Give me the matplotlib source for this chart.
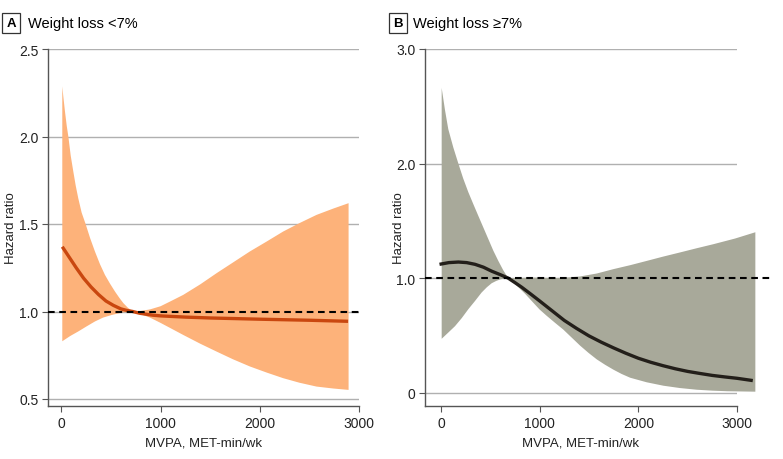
import numpy as np
import matplotlib.pyplot as plt

plt.rcParams['font.family'] = ['Liberation Sans', 'DejaVu Sans']

# Panel A: weight loss <7%
a_up_x = [10, 20, 37, 55, 71, 95, 121, 145, 171, 205, 245, 290, 339, 390, 440, 490, 541, 585, 625, 670, 720,
          800, 894, 1000, 1100, 1229, 1400, 1565, 1730, 1900, 2070, 2236, 2400, 2572, 2740, 2895]
a_up_y = [2.286, 2.23, 2.143, 2.06, 2.0, 1.89, 1.80, 1.72, 1.647, 1.565, 1.5, 1.42, 1.343, 1.27, 1.209, 1.16,
          1.114, 1.078, 1.048, 1.022, 1.0,
          1.003, 1.012, 1.03, 1.058, 1.095, 1.155, 1.219, 1.28, 1.343, 1.40, 1.457, 1.505, 1.552, 1.588, 1.619]
a_lo_x = [10, 90, 171, 255, 339, 420, 507, 620, 720, 800, 894, 1000, 1100, 1229, 1400, 1565, 1730, 1900,
          2070, 2236, 2400, 2572, 2740, 2895]
a_lo_y = [0.83, 0.86, 0.886, 0.915, 0.943, 0.965, 0.98, 0.995, 1.0, 0.985, 0.965, 0.935, 0.905, 0.866, 0.816,
          0.771, 0.727, 0.686, 0.651, 0.619, 0.593, 0.571, 0.56, 0.552]
a_hr_x = [10, 80, 150, 225, 300, 375, 450, 525, 600, 660, 720, 790, 850, 920, 1000, 1250, 1500, 2000, 2500, 2890]
a_hr_y = [1.37, 1.31, 1.25, 1.19, 1.14, 1.097, 1.06, 1.035, 1.015, 1.006, 1.0, 0.99, 0.985, 0.979, 0.975,
          0.968, 0.963, 0.956, 0.95, 0.944]

# Panel B: weight loss >=7%
b_up_x = [7, 40, 74, 125, 176, 225, 277, 328, 378, 430, 480, 530, 581, 630, 680, 800, 903, 1000, 1150,
          1280, 1410, 1580, 1748, 1920, 2086, 2250, 2424, 2590, 2762, 2980, 3186]
b_up_y = [2.66, 2.47, 2.30, 2.14, 2.0, 1.87, 1.75, 1.645, 1.544, 1.44, 1.34, 1.24, 1.15, 1.07, 1.0, 1.0,
          1.005, 1.003, 1.0, 1.005, 1.014, 1.04, 1.078, 1.113, 1.15, 1.187, 1.224, 1.26, 1.296, 1.345, 1.40]
b_lo_x = [7, 75, 142, 210, 277, 345, 412, 465, 514, 560, 600, 640, 680, 760, 850, 930, 1000, 1072, 1155,
          1240, 1325, 1410, 1495, 1579, 1663, 1748, 1830, 1917, 2085, 2255, 2420, 2593, 2750, 2900, 3186]
b_lo_y = [0.47, 0.525, 0.58, 0.65, 0.728, 0.80, 0.874, 0.92, 0.955, 0.975, 0.988, 0.996, 1.0, 0.94, 0.865,
          0.79, 0.725, 0.67, 0.61, 0.55, 0.48, 0.41, 0.347, 0.29, 0.243, 0.20, 0.163, 0.13, 0.09, 0.06, 0.04,
          0.025, 0.017, 0.012, 0.008]
b_hr_x = [-15, 80, 176, 260, 345, 430, 514, 600, 680, 750, 818, 910, 1000, 1125, 1250, 1375, 1500, 1625,
          1750, 1875, 2000, 2125, 2250, 2375, 2500, 2625, 2750, 2875, 3000, 3160]
b_hr_y = [1.12, 1.135, 1.14, 1.135, 1.12, 1.095, 1.06, 1.03, 1.0, 0.96, 0.92, 0.86, 0.80, 0.715, 0.63,
          0.56, 0.495, 0.44, 0.39, 0.343, 0.30, 0.265, 0.235, 0.208, 0.185, 0.167, 0.15, 0.137, 0.125, 0.105]

fig = plt.figure(figsize=(7.83, 4.60), dpi=100)
axA = fig.add_axes([48 / 783, 1 - 407 / 460, 311 / 783, 357 / 460])
axB = fig.add_axes([425 / 783, 1 - 407 / 460, 312 / 783, 357 / 460])

grid_c = '#b0b0b0'
spine_c = '#555555'


def style(ax, yticks, ylabels, ylim, xlim, ylab_x):
    ax.set_xlim(*xlim)
    ax.set_ylim(*ylim)
    for y in yticks:
        ax.axhline(y, color=grid_c, lw=1.0, zorder=0)
    ax.set_yticks(yticks)
    ax.set_yticklabels(ylabels)
    ax.set_xticks([0, 1000, 2000, 3000])
    ax.spines['top'].set_visible(False)
    ax.spines['right'].set_visible(False)
    for s in ['left', 'bottom']:
        ax.spines[s].set_color(spine_c)
        ax.spines[s].set_linewidth(1.0)
    ax.tick_params(direction='out', length=4, width=0.8, color=spine_c,
                   labelsize=10, labelcolor='#222222', pad=3)
    ax.set_xlabel('MVPA, MET-min/wk', fontsize=9.5, color='#222222', labelpad=5)
    ax.set_ylabel('Hazard ratio', fontsize=9.5, color='#222222')
    ax.yaxis.set_label_coords(ylab_x, 0.5)


# Panel A
style(axA, [0.5, 1.0, 1.5, 2.0, 2.5], ['0.5', '1.0', '1.5', '2.0', '2.5'],
      (0.46, 2.5), (-134, 3000), -0.10)
axA.fill(np.concatenate([a_up_x, a_lo_x[::-1]]), np.concatenate([a_up_y, a_lo_y[::-1]]),
         color='#fdb27a', lw=0, zorder=1)
axA.plot(a_hr_x, a_hr_y, color='#c9470f', lw=2.4, zorder=3, solid_capstyle='butt')
axA.plot([-134, 3010], [1.0, 1.0], color='black', lw=1.5, ls=(0, (3.2, 2.2)), zorder=4,
         clip_on=False)

# Panel B
style(axB, [0, 1.0, 2.0, 3.0], ['0', '1.0', '2.0', '3.0'],
      (-0.117, 3.0), (-162, 3000), -0.064)
axB.fill(np.concatenate([b_up_x, b_lo_x[::-1]]), np.concatenate([b_up_y, b_lo_y[::-1]]),
         color='#a8a99a', lw=0, zorder=1, clip_on=False)
axB.plot(b_hr_x, b_hr_y, color='#231f1a', lw=2.4, zorder=3, clip_on=False, solid_capstyle='butt')
axB.plot([-162, 3357], [1.0, 1.0], color='black', lw=1.5, ls=(0, (3.2, 2.2)), zorder=4,
         clip_on=False)

# panel titles
box = dict(boxstyle='square,pad=0.3', fc='white', ec='#333333', lw=0.9)
fig.text(11 / 783, 1 - 24 / 460, 'A', fontsize=9.5, fontweight='bold', ha='center', va='center', bbox=box)
fig.text(28 / 783, 1 - 24 / 460, 'Weight loss <7%', fontsize=10.5, ha='left', va='center')
fig.text(398 / 783, 1 - 24 / 460, 'B', fontsize=9.5, fontweight='bold', ha='center', va='center', bbox=box)
fig.text(413 / 783, 1 - 24 / 460, 'Weight loss ≥7%', fontsize=10.5, ha='left', va='center')

fig.savefig('out.png', dpi=100)
